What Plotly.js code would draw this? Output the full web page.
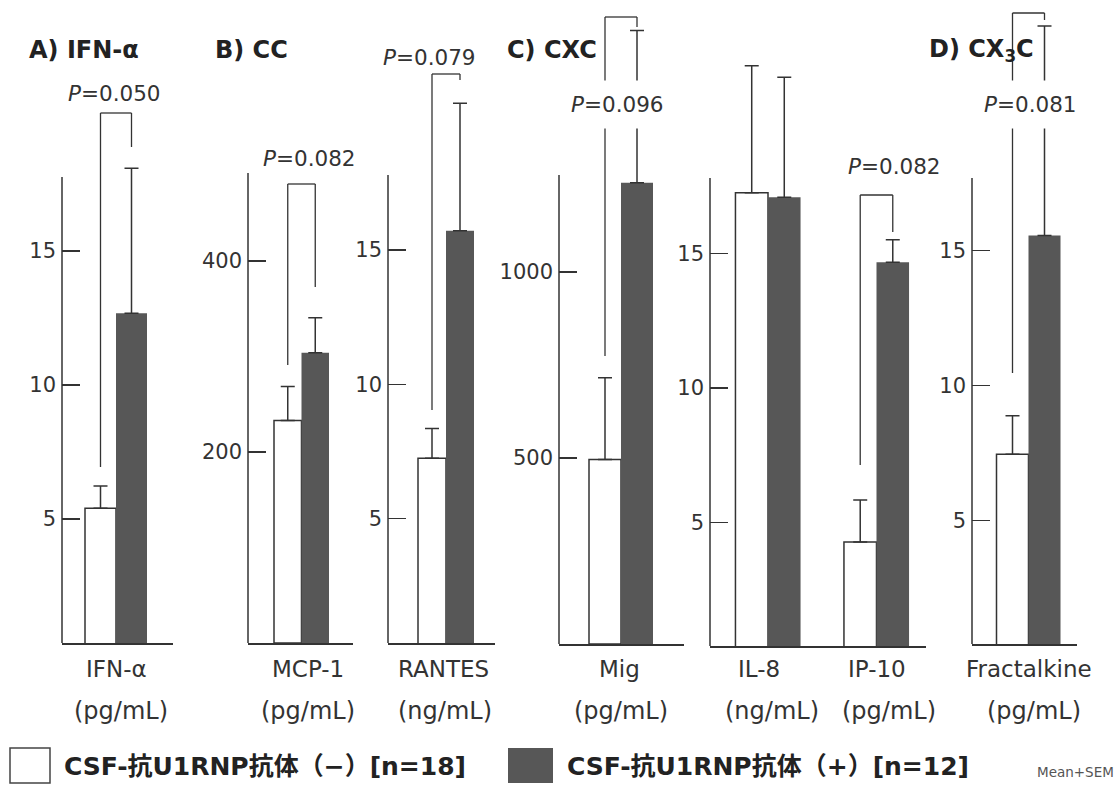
<!DOCTYPE html>
<html><head><meta charset="utf-8">
<script src="https://cdn.plot.ly/plotly-3.0.1.min.js"></script>
<style>html,body{margin:0;padding:0;background:#fff}#chart{width:1119px;height:788px}</style>
</head><body><div id="chart"></div>
<script>
// ---------------- data ----------------
const groupNames = ['CSF-抗U1RNP抗体（−）[n=18]', 'CSF-抗U1RNP抗体（+）[n=12]'];
const categories = ['IFN-α', 'MCP-1', 'RANTES', 'Mig', 'IL-8', 'IP-10', 'Fractalkine'];
const units      = ['(pg/mL)', '(pg/mL)', '(ng/mL)', '(pg/mL)', '(ng/mL)', '(pg/mL)', '(pg/mL)'];
const panelOf    = [0, 1, 2, 3, 4, 4, 5];
const negMean    = [5.40, 233, 7.25, 496, 17.25, 4.27, 7.46];
const negSEM     = [0.83, 35.5, 1.11, 220, 4.72, 1.56, 1.43];
const posMean    = [12.68, 304, 15.72, 1240, 17.08, 14.67, 15.56];
const posSEM     = [5.41, 36.6, 4.74, 409, 4.46, 0.83, 7.76];
const pValues    = ['0.050', '0.082', '0.079', '0.096', null, '0.082', '0.081'];
const tickValues = [[5, 10, 15], [200, 400], [5, 10, 15], [500, 1000], [5, 10, 15], [5, 10, 15]];
const panelTitles = ['A) IFN-α', 'B) CC', 'C) CXC', 'D) CX<sub>3</sub>C'];
const footNote = 'Mean+SEM';

// ---------------- layout geometry (pixels) ----------------
const W = 1119, H = 788;
const BARGAP = 0.4, BW = (1 - BARGAP) / 2;
const geo = [
  {L: 62,  R: 173,  base: 643, zero: 653,   ppu: 26.8,  top: 177, c0: 116,   bw: 31},
  {L: 248, R: 353,  base: 643, zero: 643,   ppu: 0.955, top: 173, c0: 301.5, bw: 27.5},
  {L: 388, R: 495,  base: 643, zero: 653.05,ppu: 26.87, top: 175, c0: 446,   bw: 28},
  {L: 559, R: 684,  base: 644, zero: 644,   ppu: 0.372, top: 175, c0: 621,   bw: 32},
  {L: 710, R: 926,  base: 646, zero: 656.8, ppu: 26.9,  top: 178, c0: 768,   step: 108.5},
  {L: 972, R: 1077, base: 644, zero: 655.7, ppu: 27,    top: 178, c0: 1028.5,bw: 32}
];
const DOMTOP = 4;
// bracket levels (pixels): top bar, end of left leg, end of right leg, text centre y, text x shift
const brackets = {
  0: {top: 113, l: 467, r: 147, ty: 93,  dx: -2,  pad: 1},
  1: {top: 184, l: 365, r: 287, ty: 158, dx: 8,   pad: 1},
  2: {top: 74,  l: 410, r: 80,  ty: 57,  dx: -17, pad: 1},
  3: {top: 17,  l: 356, r: 27,  ty: 105, dx: -4,  pad: 11},
  5: {top: 195, l: 465, r: 232, ty: 166, dx: 18,  pad: 1},
  6: {top: 13,  l: 373, r: 20,  ty: 105, dx: 2,   pad: 11}
};
const labelShift = [0, 6, -3, -2, -9, 0, 0];
const unitShift  = [5, 6, -1, 0, 4, 12, 5];
const titleX = [27, 213, 505, 927];

const INK = '#333';
const DARK = '#575757';
const FONT = 'DejaVu Sans, Verdana, sans-serif';
const py = p => 1 - p / H;
const px = p => p / W;

const traces = [], shapes = [], annotations = [];
const layout = {
  width: W, height: H, margin: {l: 0, r: 0, t: 0, b: 0},
  paper_bgcolor: '#fff', plot_bgcolor: 'rgba(0,0,0,0)',
  showlegend: false, barmode: 'group', bargap: BARGAP, bargroupgap: 0,
  font: {family: FONT, color: INK}
};

geo.forEach((g, s) => {
  const n = s === 0 ? '' : String(s + 1);
  const idx = categories.map((c, i) => i).filter(i => panelOf[i] === s);
  const cats = idx.map(i => categories[i]);
  const ppx = g.step ? g.step : g.bw / BW;          // px per category unit
  layout['xaxis' + n] = {
    domain: [px(g.L), px(g.R)], anchor: 'y' + n,
    type: 'category', categoryorder: 'array', categoryarray: cats,
    range: [-(g.c0 - g.L) / ppx, (g.R - g.c0) / ppx],
    showline: true, linecolor: INK, linewidth: 1.5, ticks: '', showticklabels: false,
    showgrid: false, zeroline: false, fixedrange: true
  };
  const yMin = (g.zero - g.base) / g.ppu, yMax = (g.zero - DOMTOP) / g.ppu;
  layout['yaxis' + n] = {
    domain: [py(g.base), py(DOMTOP)], anchor: 'x' + n,
    range: [yMin, yMax], showline: false, ticks: 'inside', ticklen: 18, tickwidth: 1.5,
    tickcolor: INK, tickvals: tickValues[s], ticktext: tickValues[s].map(String),
    tickfont: {family: FONT, size: 21, color: INK}, ticklabelstandoff: 5,
    showgrid: false, zeroline: false, fixedrange: true
  };
  // visible y axis line
  shapes.push({type: 'line', xref: 'x' + n + ' domain', yref: 'y' + n, x0: 0, x1: 0,
    y0: yMin, y1: (g.zero - g.top) / g.ppu, line: {color: INK, width: 1.5}});

  traces.push({
    type: 'bar', name: groupNames[0], x: cats, y: idx.map(i => negMean[i]),
    xaxis: 'x' + n, yaxis: 'y' + n,
    marker: {color: '#fff', line: {color: INK, width: 1.5}},
    error_y: {type: 'data', symmetric: false, array: idx.map(i => negSEM[i]), arrayminus: idx.map(() => 0),
      color: INK, thickness: 1.5, width: 7}
  });
  traces.push({
    type: 'bar', name: groupNames[1], x: cats, y: idx.map(i => posMean[i]),
    xaxis: 'x' + n, yaxis: 'y' + n,
    marker: {color: DARK, line: {width: 0}},
    error_y: {type: 'data', symmetric: false, array: idx.map(i => posSEM[i]), arrayminus: idx.map(() => 0),
      color: INK, thickness: 1.5, width: 7}
  });

  idx.forEach((ci, k) => {
    // category name and unit
    annotations.push({xref: 'x' + n, yref: 'paper', x: k, y: py(669), text: categories[ci],
      showarrow: false, xshift: labelShift[ci], yanchor: 'middle', font: {family: FONT, size: 23, color: INK}});
    annotations.push({xref: 'x' + n, yref: 'paper', x: k, y: py(711), text: units[ci],
      showarrow: false, xshift: unitShift[ci], yanchor: 'middle', font: {family: FONT, size: 24, color: INK}});
    // significance bracket
    const b = brackets[ci];
    if (b && pValues[ci]) {
      const xl = k - BW / 2, xr = k + BW / 2;
      const ln = {color: INK, width: 1.3};
      shapes.push({type: 'line', xref: 'x' + n, yref: 'paper', x0: xl, x1: xl, y0: py(b.l), y1: py(b.top), line: ln});
      shapes.push({type: 'line', xref: 'x' + n, yref: 'paper', x0: xl, x1: xr, y0: py(b.top), y1: py(b.top), line: ln});
      shapes.push({type: 'line', xref: 'x' + n, yref: 'paper', x0: xr, x1: xr, y0: py(b.top), y1: py(b.r), line: ln});
      annotations.push({xref: 'x' + n, yref: 'paper', x: k, y: py(b.ty), xshift: b.dx,
        text: '<i>P</i>=' + pValues[ci], showarrow: false, yanchor: 'middle',
        bgcolor: '#fff', borderpad: b.pad, font: {family: FONT, size: 21.5, color: INK}});
    }
  });
});

// panel titles
panelTitles.forEach((t, i) => annotations.push({xref: 'paper', yref: 'paper', x: px(titleX[i]), y: py(50),
  xanchor: 'left', yanchor: 'middle', text: t, showarrow: false,
  font: {family: FONT, size: 24, color: '#222', weight: 'bold'}}));

// legend
shapes.push({type: 'rect', xref: 'paper', yref: 'paper', x0: px(10), x1: px(50), y0: py(783), y1: py(748),
  fillcolor: '#fff', line: {color: '#444', width: 1.5}});
shapes.push({type: 'rect', xref: 'paper', yref: 'paper', x0: px(508), x1: px(553), y0: py(783), y1: py(748),
  fillcolor: DARK, line: {width: 0}});
[[62, groupNames[0]], [565, groupNames[1]]].forEach(([x, t]) => annotations.push({
  xref: 'paper', yref: 'paper', x: px(x), y: py(766), xanchor: 'left', yanchor: 'middle', text: t,
  showarrow: false, font: {family: 'DejaVu Sans, Noto Sans CJK JP, sans-serif', size: 25, color: '#222', weight: 'bold'}}));
annotations.push({xref: 'paper', yref: 'paper', x: px(1116), y: py(772), xanchor: 'right', yanchor: 'middle',
  text: footNote, showarrow: false, font: {family: FONT, size: 13.5, color: '#555'}});

layout.shapes = shapes;
layout.annotations = annotations;
Plotly.newPlot('chart', traces, layout, {staticPlot: true, displayModeBar: false});
</script></body></html>
